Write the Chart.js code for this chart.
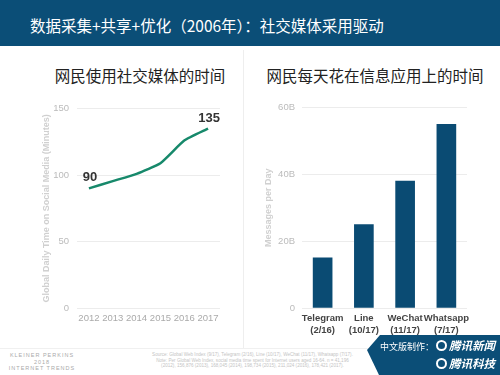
<!DOCTYPE html>
<html>
<head>
<meta charset="utf-8">
<script src="https://cdn.jsdelivr.net/npm/chart.js@4.4.1/dist/chart.umd.min.js"></script>
<style>
  body { margin: 0; width: 500px; height: 375px; overflow: hidden; background: #fff;
         font-family: "Noto Sans CJK SC", "Liberation Sans", sans-serif; position: relative; }
  .header { position: absolute; left: 0; top: 0; width: 500px; height: 46px; background: #0b4e77; }
  .header span { position: absolute; left: 30px; top: 14px; color: #fff; font-size: 15.5px; line-height: 22px; }
  .ctitle { position: absolute; top: 64px; font-size: 15.5px; color: #222; text-align: center; line-height: 22px; }
  .divider { position: absolute; left: 243px; top: 50px; width: 1px; height: 298px; background: #eee; }
  .foot-line { position: absolute; left: 0; top: 348px; width: 500px; height: 1px; background: #f0f0f0; }
  .kp { position: absolute; left: 4px; top: 352px; width: 76px; text-align: center; color: #aaa;
        font-family: "Liberation Sans", sans-serif; font-size: 5.5px; line-height: 6.5px; letter-spacing: 1px; }
  .src { position: absolute; left: 140px; top: 352px; width: 225px; text-align: center; color: #c4c4c4;
         font-family: "Liberation Sans", sans-serif; font-size: 4.6px; line-height: 5.5px; }
  .badge { position: absolute; left: 0; top: 0; }
  .b1 { position: absolute; right: 5px; top: 338px; color: #fff; font-size: 9px; line-height: 14px; white-space: nowrap; }
  .b1 b, .b2 b { font-style: italic; font-size: 11.5px; }
  .b2 { position: absolute; right: 5px; top: 356px; color: #fff; font-size: 9px; line-height: 14px; white-space: nowrap; }
  .logo { display: inline-block; width: 7px; height: 7px; border: 2px solid #fff; border-radius: 50%;
          vertical-align: -1px; margin: 0 2px 0 2px; }
  .wrap { position: absolute; }
</style>
</head>
<body>
<div class="header"><span>数据采集+共享+优化（2006年）：社交媒体采用驱动</span></div>
<div class="ctitle" style="left:40px;width:200px;">网民使用社交媒体的时间</div>
<div class="ctitle" style="left:255px;width:240px;">网民每天花在信息应用上的时间</div>
<div class="divider"></div>

<div class="wrap" style="left:30px;top:95px;width:215px;height:240px;"><canvas id="lineChart"></canvas></div>
<div class="wrap" style="left:255px;top:95px;width:240px;height:245px;"><canvas id="barChart"></canvas></div>

<div class="foot-line"></div>
<div class="kp">KLEINER PERKINS<br>2018<br>INTERNET TRENDS</div>
<div class="src">Source: Global Web Index (9/17), Telegram (2/16), Line (10/17), WeChat (11/17), Whatsapp (7/17).<br>Note: Per Global Web Index, social media time spent for Internet users aged 16-64. n = 41,196<br>(2012), 156,876 (2013), 168,045 (2014), 198,734 (2015), 211,024 (2016), 178,421 (2017).</div>
<svg class="badge" width="500" height="375"><polygon points="380,335 500,335 500,375 379,375 367,350" fill="#0b4e77"/></svg>
<div class="b1">中文版制作：<span class="logo"></span><b>腾讯新闻</b></div>
<div class="b2"><span class="logo"></span><b>腾讯科技</b></div>

<script>
const years = ['2012', '2013', '2014', '2015', '2016', '2017'];
const minutes = [90, 95.5, 101, 109, 126, 135];
const labeledYears = ['2012', '2017'];

const apps = [['Telegram', '(2/16)'], ['Line', '(10/17)'], ['WeChat', '(11/17)'], ['Whatsapp', '(7/17)']];
const messages = [15, 25, 38, 55];
const messageTicks = ['0', '20B', '40B', '60B'];

const tickFont = { family: 'Liberation Sans', size: 9.5 };
const titleFont = { family: 'Liberation Sans', size: 9, weight: 'bold' };

const endLabels = {
    id: 'endLabels',
    afterDatasetsDraw(chart) {
        const ctx = chart.ctx;
        const meta = chart.getDatasetMeta(0);
        ctx.save();
        ctx.font = 'bold 13px "Liberation Sans"';
        ctx.fillStyle = '#333';
        ctx.textAlign = 'center';
        ctx.textBaseline = 'bottom';
        years.forEach(function (y, i) {
            if (labeledYears.indexOf(y) < 0) return;
            const p = meta.data[i];
            ctx.fillText(String(minutes[i]), p.x + 1, p.y - 4);
        });
        ctx.restore();
    }
};

new Chart(document.getElementById('lineChart'), {
    type: 'line',
    data: {
        labels: years,
        datasets: [{
            data: minutes,
            borderColor: '#17896b',
            borderWidth: 2.5,
            pointRadius: 0,
            tension: 0.15
        }]
    },
    options: {
        responsive: true,
        maintainAspectRatio: false,
        animation: false,
        layout: { padding: { top: 12, right: 25, left: 0, bottom: 0 } },
        plugins: { legend: { display: false }, tooltip: { enabled: false } },
        scales: {
            x: {
                offset: true,
                grid: { display: false, drawTicks: false },
                border: { display: false },
                ticks: { color: '#aaa', font: tickFont, padding: 5, maxRotation: 0, autoSkip: false },
                afterFit: function (s) { s.height = 27; }
            },
            y: {
                min: 0, max: 150,
                ticks: { stepSize: 50, color: '#bbb', font: tickFont, padding: 8 },
                grid: { color: '#ececec', drawTicks: false },
                border: { display: false },
                title: { display: true, text: 'Global Daily Time on Social Media (Minutes)', color: '#d0d0d0',
                         font: titleFont, padding: { top: 11, bottom: 0 } },
                afterFit: function (s) { s.width = 47; }
            }
        }
    },
    plugins: [endLabels]
});

new Chart(document.getElementById('barChart'), {
    type: 'bar',
    data: {
        labels: apps,
        datasets: [{
            data: messages,
            backgroundColor: '#0a4b73',
            barThickness: 19
        }]
    },
    options: {
        responsive: true,
        maintainAspectRatio: false,
        animation: false,
        layout: { padding: { top: 12, right: 28, left: 0, bottom: 0 } },
        plugins: { legend: { display: false }, tooltip: { enabled: false } },
        scales: {
            x: {
                grid: { display: false, drawTicks: false },
                border: { display: false },
                ticks: { color: '#444', font: { family: 'Liberation Sans', size: 9.5, weight: 'bold' },
                         padding: 5, maxRotation: 0, autoSkip: false },
                afterFit: function (s) { s.height = 32; }
            },
            y: {
                min: 0, max: 60,
                ticks: { stepSize: 20, color: '#bbb', font: tickFont, padding: 7,
                         callback: function (v) { return messageTicks[v / 20]; } },
                grid: { color: '#ececec', drawTicks: false },
                border: { display: false },
                title: { display: true, text: 'Messages per Day', color: '#d0d0d0',
                         font: titleFont, padding: { top: 8, bottom: 0 } },
                afterFit: function (s) { s.width = 47; }
            }
        }
    }
});
</script>
</body>
</html>
